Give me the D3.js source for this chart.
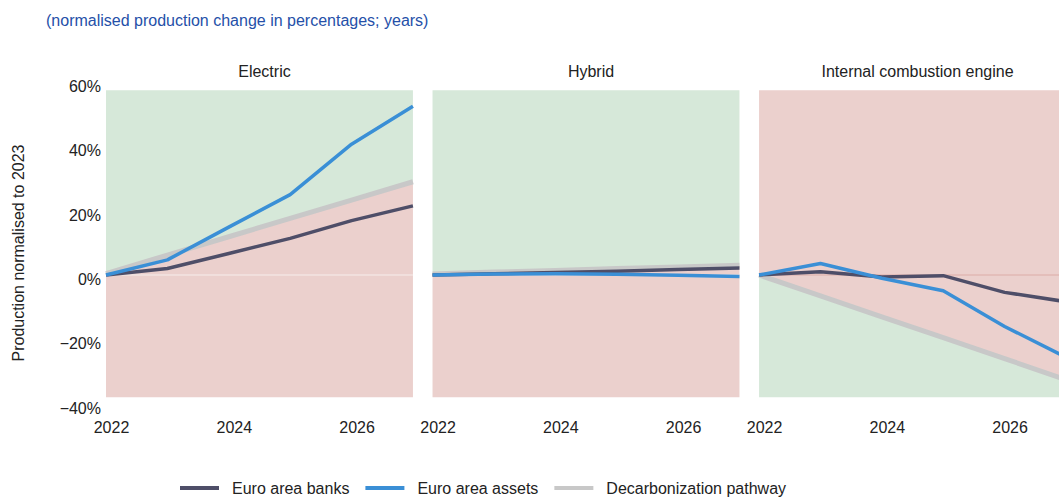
<!DOCTYPE html>
<html>
<head>
<meta charset="utf-8">
<script src="https://cdn.jsdelivr.net/npm/d3@7"></script>
<style>
  body { margin: 0; background: #fff; }
  svg { display: block; font-family: "Liberation Sans", Arial, sans-serif; }
</style>
</head>
<body>
<div id="chart"></div>
<script>
// data
const years = [2022, 2023, 2024, 2025, 2026, 2027];
const panels = ["Electric", "Hybrid", "Internal combustion engine"];
const banks = [
  [0, 2.0, 6.7, 11.4, 16.9, 21.5],
  [0, 0.4, 0.8, 1.2, 1.7, 2.2],
  [0, 1.0, -0.6, -0.2, -5.4, -8.3]
];
const assets = [
  [0, 4.7, 14.9, 25.0, 40.7, 52.5],
  [0, 0.3, 0.4, 0.2, -0.1, -0.5],
  [0, 3.6, -1.0, -4.9, -16.0, -25.6]
];
const pathway = [
  [0.4, 6.2, 11.9, 17.6, 23.3, 29.0],
  [0.3, 0.9, 1.4, 2.0, 2.5, 3.0],
  [0, -6.5, -13.0, -19.5, -26.0, -32.6]
];
// true = green above the pathway, red below
const greenAbove = [true, true, false];
const yTicks = [-40, -20, 0, 20, 40, 60];
const xTicks = [2022, 2024, 2026];
const bandTop = 57.5, bandBottom = -38;
const seriesNames = ["Euro area banks", "Euro area assets", "Decarbonization pathway"];

const W = 1059, H = 498;
const green = "#d6e8d9", red = "#ebd0cd";
const colBanks = "#4e4e68", colAssets = "#3a8fd6", colPath = "#c8c8c8";

const svg = d3.select("#chart").append("svg").attr("width", W).attr("height", H);

svg.append("text").attr("x", 46).attr("y", 26)
  .attr("fill", "#2550a8").style("font-size", "16px")
  .text("(normalised production change in percentages; years)");

svg.append("text")
  .attr("transform", "translate(24,253) rotate(-90)")
  .attr("text-anchor", "middle").style("font-size", "16px").attr("fill", "#222")
  .text("Production normalised to 2023");

const panelX = d3.scaleBand().domain(panels).range([106, 1066]).paddingInner(0.06);
const y = d3.scaleLinear().domain([-40, 60]).range([403.6, 82.1]);

// y axis labels
const yAxis = svg.append("g").attr("transform", "translate(101,0)")
  .call(d3.axisLeft(y).tickValues(yTicks).tickSize(0).tickPadding(0)
    .tickFormat(d => (d < 0 ? "\u2212" + Math.abs(d) : d) + "%"));
yAxis.select(".domain").remove();
yAxis.selectAll("text").attr("dy", "0.72em").attr("y", -2)
  .style("font-size", "16px").attr("fill", "#222").attr("font-family", null);

panels.forEach((name, i) => {
  const x0 = panelX(name);
  const x = d3.scaleLinear().domain([2022, 2027]).range([x0, x0 + panelX.bandwidth()]);
  const g = svg.append("g");
  const pts = years.map((yr, j) => ({ yr, p: pathway[i][j] }));

  const above = d3.area().x(d => x(d.yr)).y0(d => y(d.p)).y1(y(bandTop));
  const below = d3.area().x(d => x(d.yr)).y0(d => y(d.p)).y1(y(bandBottom));
  g.append("path").attr("d", above(pts)).attr("fill", greenAbove[i] ? green : red);
  g.append("path").attr("d", below(pts)).attr("fill", greenAbove[i] ? red : green);

  // zero line
  g.append("line").attr("x1", x(2022)).attr("x2", x(2027)).attr("y1", y(0)).attr("y2", y(0))
    .attr("stroke", greenAbove[i] ? "#f7eeec" : "#dcaca7").attr("stroke-width", 1);

  const line = d3.line().x((d, j) => x(years[j])).y(d => y(d));
  g.append("path").attr("d", line(pathway[i])).attr("fill", "none")
    .attr("stroke", colPath).attr("stroke-width", 5);
  g.append("path").attr("d", line(banks[i])).attr("fill", "none")
    .attr("stroke", colBanks).attr("stroke-width", 3.5).attr("stroke-linejoin", "round");
  g.append("path").attr("d", line(assets[i])).attr("fill", "none")
    .attr("stroke", colAssets).attr("stroke-width", 3.5).attr("stroke-linejoin", "round");

  svg.append("text").attr("x", x0 + panelX.bandwidth() / 2 + 5).attr("y", 77)
    .attr("text-anchor", "middle").style("font-size", "16px").attr("fill", "#222").text(name);

  const xa = svg.append("g").attr("transform", "translate(5,421)")
    .call(d3.axisBottom(x).tickValues(xTicks).tickSize(0).tickPadding(0).tickFormat(d3.format("d")));
  xa.select(".domain").remove();
  xa.selectAll("text").attr("dy", "0.72em").style("font-size", "16px")
    .attr("fill", "#222").attr("font-family", null);
});

// legend
const legend = svg.append("g").attr("transform", "translate(180,488)");
const legCols = [colBanks, colAssets, colPath];
let lx = 0;
seriesNames.forEach((s, i) => {
  legend.append("line").attr("x1", lx).attr("x2", lx + 39).attr("y1", 0).attr("y2", 0)
    .attr("stroke", legCols[i]).attr("stroke-width", 4);
  const t = legend.append("text").attr("x", lx + 52).attr("y", 0).attr("dy", "0.36em")
    .style("font-size", "16px").attr("fill", "#222").text(s);
  lx += 52 + t.node().getComputedTextLength() + 16;
});
</script>
</body>
</html>
